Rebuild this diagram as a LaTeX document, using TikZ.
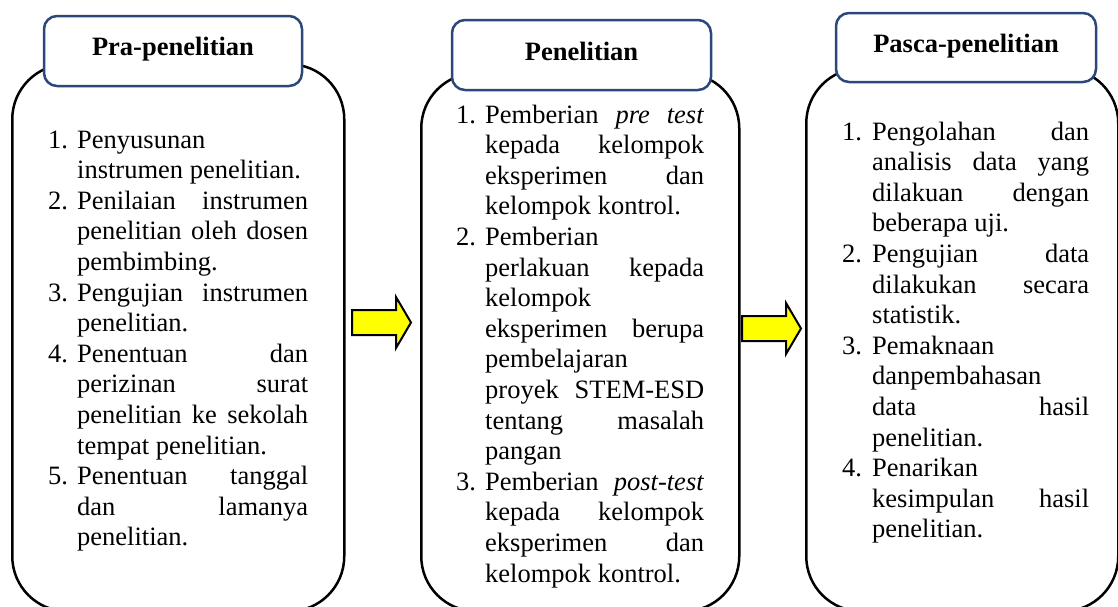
\documentclass[tikz,border=0pt]{standalone}
\usepackage{fontspec}
\setmainfont{Liberation Serif}
\definecolor{hdrblue}{RGB}{44,72,122}
\definecolor{arrowyellow}{RGB}{255,255,0}
\newlength\numw
\newlength\txw
\newcommand\bodyfont{\fontsize{26.5pt}{30.6pt}\selectfont}
\newcommand\Jn[2]{\makebox[\numw][l]{#1}\makebox[\txw][s]{#2}\par}
\newcommand\Ln[2]{\makebox[\numw][l]{#1}\makebox[\txw][l]{#2}\par}
\newcommand\colbox[3]{\setlength\numw{#1}\setlength\txw{#2}\parbox[t]{\dimexpr#1+#2\relax}{\bodyfont\setlength\parindent{0pt}\setlength\parskip{0pt}#3}}
\tikzset{
  bigbox/.style={draw=black, line width=2.5pt, rounded corners=55pt, inner sep=0pt, anchor=north west},
  hdr/.style={draw=hdrblue, line width=2.5pt, fill=white, rounded corners=13pt, inner sep=0pt},
  hdrtxt/.style={font=\fontsize{26.5pt}{30pt}\selectfont\bfseries, inner sep=0pt, anchor=base},
  coltxt/.style={inner sep=0pt, anchor=base west},
  yarrow/.style={draw=black, line width=2pt, fill=arrowyellow, line join=miter}
}
\begin{document}
\begin{tikzpicture}[x=1pt, y=-1pt]
\useasboundingbox (0,0) rectangle (1118,606);
\clip (0,0) rectangle (1118,606);
% big boxes
\node[bigbox, minimum width=332pt, minimum height=547pt] (b1) at (11,63) {};
\node[bigbox, minimum width=318pt, minimum height=538pt] (b2) at (420,72) {};
\node[bigbox, minimum width=312pt, minimum height=543pt] (b3) at (805,67) {};
% headers
\node[hdr, minimum width=258pt, minimum height=70pt] (h1) at (173,51) {};
\node[hdr, minimum width=259pt, minimum height=70pt] (h2) at (581.5,55) {};
\node[hdr, minimum width=260pt, minimum height=69pt] (h3) at (966,47.5) {};
\node[hdrtxt] (t1) at (173,55) {Pra-penelitian};
\node[hdrtxt] (t2) at (581.5,60) {Penelitian};
\node[hdrtxt] (t3) at (966,52) {Pasca-penelitian};
% arrows
\coordinate (a1) at (352,322.5);
\coordinate (a2) at (742,328.5);
\draw[yarrow] (a1) ++(0,-12.5) -- ++(44,0) -- ++(0,-13) -- ++(15,25.5) -- ++(-15,25.5) -- ++(0,-13) -- ++(-44,0) -- cycle;
\draw[yarrow] (a2) ++(0,-12.5) -- ++(44,0) -- ++(0,-13) -- ++(15,25.5) -- ++(-15,25.5) -- ++(0,-13) -- ++(-44,0) -- cycle;
% column texts
\node[coltxt] (c1) at (48,148) {\colbox{29pt}{231pt}{%
\Ln{1.}{Penyusunan}
\Ln{}{instrumen penelitian.}
\Jn{2.}{Penilaian instrumen}
\Jn{}{penelitian oleh dosen}
\Ln{}{pembimbing.}
\Jn{3.}{Pengujian instrumen}
\Ln{}{penelitian.}
\Jn{4.}{Penentuan dan}
\Jn{}{perizinan surat}
\Jn{}{penelitian ke sekolah}
\Ln{}{tempat penelitian.}
\Jn{5.}{Penentuan tanggal}
\Jn{}{dan lamanya}
\Ln{}{penelitian.}}};
\node[coltxt] (c2) at (456,123) {\colbox{29pt}{219pt}{%
\Jn{1.}{Pemberian \textit{pre} \textit{test}}
\Jn{}{kepada kelompok}
\Jn{}{eksperimen dan}
\Ln{}{kelompok kontrol.}
\Ln{2.}{Pemberian}
\Jn{}{perlakuan kepada}
\Ln{}{kelompok}
\Jn{}{eksperimen berupa}
\Ln{}{pembelajaran}
\Jn{}{proyek STEM-ESD}
\Jn{}{tentang masalah}
\Ln{}{pangan}
\Jn{3.}{Pemberian \textit{post-test}}
\Jn{}{kepada kelompok}
\Jn{}{eksperimen dan}
\Ln{}{kelompok kontrol.}}};
\node[coltxt] (c3) at (842,140) {\colbox{30pt}{217pt}{%
\Jn{1.}{Pengolahan dan}
\Jn{}{analisis data yang}
\Jn{}{dilakuan dengan}
\Ln{}{beberapa uji.}
\Jn{2.}{Pengujian data}
\Jn{}{dilakukan secara}
\Ln{}{statistik.}
\Ln{3.}{Pemaknaan}
\Ln{}{danpembahasan}
\Jn{}{data hasil}
\Ln{}{penelitian.}
\Ln{4.}{Penarikan}
\Jn{}{kesimpulan hasil}
\Ln{}{penelitian.}}};
\end{tikzpicture}
\end{document}
